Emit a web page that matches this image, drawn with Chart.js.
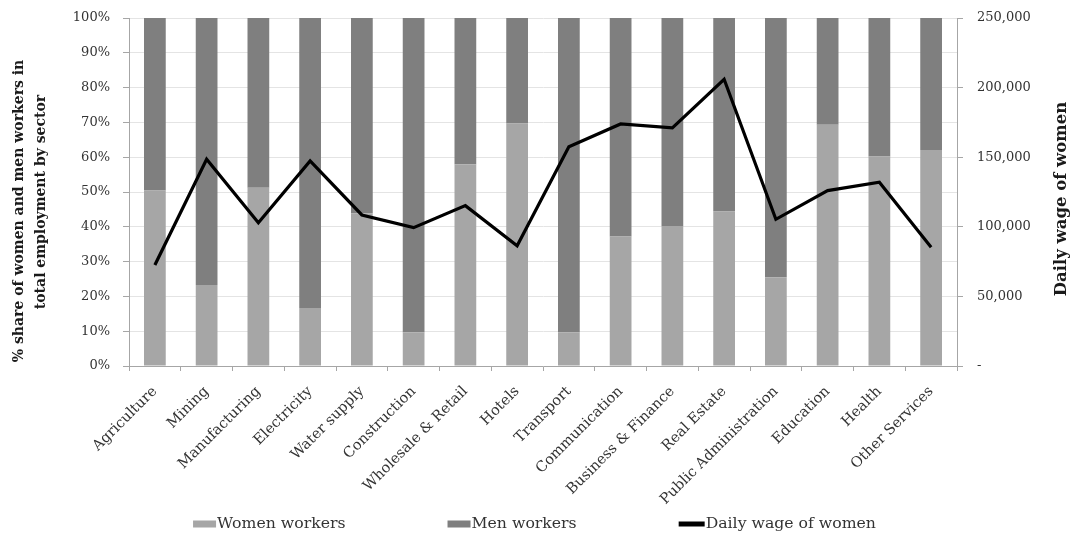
<!DOCTYPE html>
<html>
<head>
<meta charset="utf-8">
<script src="https://cdn.jsdelivr.net/npm/chart.js@4.4.1/dist/chart.umd.min.js"></script>
<style>
  html, body { margin: 0; padding: 0; background: #ffffff; }
  #wrap { width: 1073px; height: 535px; }
</style>
</head>
<body>
<div id="wrap"><canvas id="chart" width="1073" height="535"></canvas></div>
<script>
// Sectors shown along the x axis
const sectors = [
  'Agriculture', 'Mining', 'Manufacturing', 'Electricity', 'Water supply',
  'Construction', 'Wholesale & Retail', 'Hotels', 'Transport', 'Communication',
  'Business & Finance', 'Real Estate', 'Public Administration', 'Education',
  'Health', 'Other Services'
];

// Share of women and men in total employment of each sector (%)
const womenShare = [50.4, 23.3, 51.2, 16.7, 43.9, 9.7, 58.0, 69.7, 9.6, 37.2, 40.2, 44.4, 25.5, 69.3, 60.2, 62.1];
const menShare   = [49.6, 76.7, 48.8, 83.3, 56.1, 90.3, 42.0, 30.3, 90.4, 62.8, 59.8, 55.6, 74.5, 30.7, 39.8, 37.9];

// Daily wage of women by sector
const womenDailyWage = [72600, 148500, 102900, 147300, 108500, 99400, 115200, 86400,
                        157500, 173900, 171000, 206000, 105400, 126000, 132000, 85300];

// Axis ranges, steps and titles
const shareAxis = { min: 0, max: 100, step: 10 };
const wageAxis  = { min: 0, max: 250000, step: 50000 };
const shareTitle = ['% share of women and men workers in', 'total employment by sector'];
const wageTitle = 'Daily wage of women';

const SERIF = "'DejaVu Serif', serif";
Chart.defaults.font.family = SERIF;
Chart.defaults.color = '#333333';

// Rotated axis titles: two lines left of the share axis, one line right of the wage axis
const axisTitles = {
  id: 'axisTitles',
  afterDraw(chart) {
    const ctx = chart.ctx;
    const a = chart.chartArea;
    const mid = (a.top + a.bottom) / 2;
    const entries = [
      { text: shareTitle[0], x: 19, y: mid + 19, size: 14, angle: -Math.PI / 2 },
      { text: shareTitle[1], x: 41, y: mid + 10, size: 14, angle: -Math.PI / 2 },
      { text: wageTitle, x: chart.width - 11, y: mid + 7, size: 16.5, angle: -Math.PI / 2 }
    ];
    ctx.save();
    ctx.fillStyle = '#1a1a1a';
    ctx.textAlign = 'center';
    ctx.textBaseline = 'middle';
    entries.forEach(e => {
      ctx.save();
      ctx.font = 'bold ' + e.size + 'px ' + SERIF;
      ctx.translate(e.x, e.y);
      ctx.rotate(e.angle);
      ctx.fillText(e.text, 0, 0);
      ctx.restore();
    });
    ctx.restore();
  }
};

// Legend drawn as one evenly spaced row under the axis labels
const bottomLegend = {
  id: 'bottomLegend',
  afterDraw(chart) {
    const ctx = chart.ctx;
    const fontSize = 15.7;
    const boxW = 23, boxH = 7, textGap = 1, itemGap = 102;
    ctx.save();
    ctx.font = fontSize + 'px ' + SERIF;
    ctx.textBaseline = 'middle';
    ctx.textAlign = 'left';
    const items = chart.data.datasets.map(ds => ({
      text: ds.label,
      color: ds.type === 'line' ? ds.borderColor : ds.backgroundColor,
      isLine: ds.type === 'line'
    }));
    const widths = items.map(it => boxW + textGap + (it.isLine ? 3 : 0) + ctx.measureText(it.text).width);
    const total = widths.reduce((a, b) => a + b, 0) + itemGap * (items.length - 1);
    let x = chart.width / 2 - 2 - total / 2;
    const y = chart.height - 11;
    items.forEach((it, i) => {
      ctx.fillStyle = it.color;
      if (it.isLine) {
        ctx.fillRect(x, y - 2.5, boxW + 3, 5);
      } else {
        ctx.fillRect(x, y - boxH / 2, boxW, boxH);
      }
      ctx.fillStyle = '#333333';
      ctx.fillText(it.text, x + boxW + textGap + (it.isLine ? 3 : 0), y);
      x += widths[i] + itemGap;
    });
    ctx.restore();
  }
};

const AXIS_GREY = '#a6a6a6';
const BOTTOM_SPACE = 20;

// Fixed side widths; label overhang is handled by the fixed top padding
function fixVertical(width) {
  return scale => {
    scale.width = width;
    scale.paddingTop = 0;
    scale.paddingBottom = 0;
  };
}

new Chart(document.getElementById('chart'), {
  data: {
    labels: sectors,
    datasets: [
      {
        type: 'bar',
        label: 'Women workers',
        data: womenShare,
        backgroundColor: '#a6a6a6',
        borderWidth: 0,
        yAxisID: 'y',
        order: 1,
        barPercentage: 0.42,
        categoryPercentage: 1.0
      },
      {
        type: 'bar',
        label: 'Men workers',
        data: menShare,
        backgroundColor: '#7f7f7f',
        borderWidth: 0,
        yAxisID: 'y',
        order: 1,
        barPercentage: 0.42,
        categoryPercentage: 1.0
      },
      {
        type: 'line',
        label: 'Daily wage of women',
        data: womenDailyWage,
        borderColor: '#000000',
        backgroundColor: '#000000',
        borderWidth: 3.2,
        pointRadius: 0,
        tension: 0,
        fill: false,
        yAxisID: 'y2',
        order: 0
      }
    ]
  },
  options: {
    responsive: false,
    devicePixelRatio: 1,
    animation: false,
    layout: { padding: { top: 18, left: 0, right: 0, bottom: BOTTOM_SPACE } },
    plugins: {
      legend: { display: false },
      tooltip: { enabled: false }
    },
    scales: {
      x: {
        stacked: true,
        grid: {
          offset: true,
          drawOnChartArea: false,
          drawTicks: true,
          tickLength: 5,
          color: AXIS_GREY
        },
        border: { color: AXIS_GREY },
        ticks: {
          autoSkip: false,
          minRotation: 45,
          maxRotation: 45,
          padding: 12,
          color: '#333333',
          font: { size: 14.5 }
        },
        afterFit(scale) { scale.height = 535 - BOTTOM_SPACE - 366; }
      },
      y: {
        type: 'linear',
        position: 'left',
        stacked: true,
        min: shareAxis.min,
        max: shareAxis.max,
        ticks: {
          stepSize: shareAxis.step,
          padding: 13,
          color: '#333333',
          font: { size: 13 },
          callback: v => v + '%'
        },
        grid: {
          color: '#e4e4e4',
          drawTicks: true,
          tickLength: 6,
          tickColor: AXIS_GREY
        },
        border: { color: AXIS_GREY },
        afterFit: fixVertical(129)
      },
      y2: {
        type: 'linear',
        position: 'right',
        min: wageAxis.min,
        max: wageAxis.max,
        ticks: {
          stepSize: wageAxis.step,
          padding: 14,
          color: '#333333',
          font: { size: 13 },
          callback: v => v === 0 ? '-' : v.toLocaleString('en-US')
        },
        grid: {
          drawOnChartArea: false,
          drawTicks: true,
          tickLength: 6,
          color: AXIS_GREY
        },
        border: { color: AXIS_GREY },
        afterFit: fixVertical(1073 - 957)
      }
    }
  },
  plugins: [axisTitles, bottomLegend]
});
</script>
</body>
</html>
